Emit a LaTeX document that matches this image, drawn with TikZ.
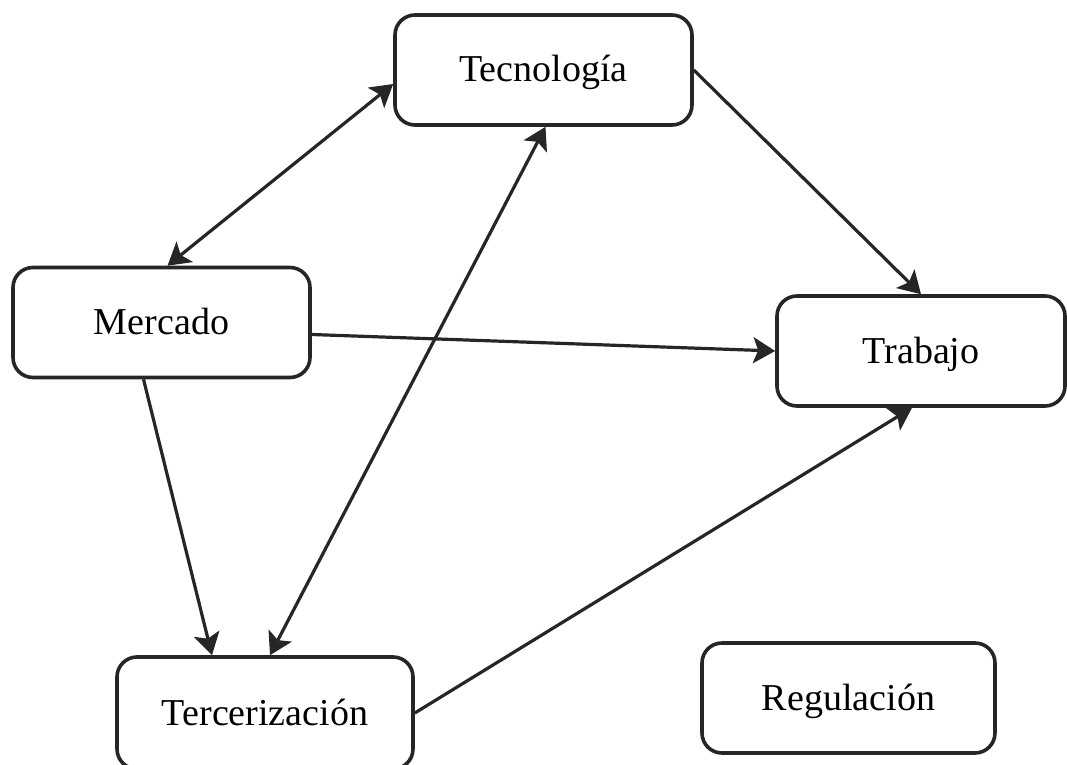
\documentclass[tikz,border=0pt]{standalone}
\usepackage{fontspec}
\setmainfont{Liberation Serif}
\usetikzlibrary{arrows.meta,calc}
\begin{document}
\begin{tikzpicture}[x=0.5pt,y=-0.5pt,
  box/.style={draw=black!85, line width=1.8pt, rounded corners=10pt,
    minimum width=#1, minimum height=55pt, inner sep=0pt,
    text height=12pt, text depth=0pt,
    font=\fontsize{19}{22}\selectfont},
  head/.style={Stealth[length=11pt,width=13pt,inset=2.5pt]},
  link/.style={line width=1.6pt, draw=black!85, -{Stealth[length=11pt,width=13pt,inset=2.5pt]}},
  both/.style={line width=1.6pt, draw=black!85,
    {Stealth[length=11pt,width=13pt,inset=2.5pt]}-{Stealth[length=11pt,width=13pt,inset=2.5pt]}}]
  \useasboundingbox (0,0) rectangle (1067,765);

  % the five factors
  \node[box=148.5pt] (tec)  at (543.5,70)  {Tecnología};
  \node[box=148.5pt] (mer)  at (161.5,322.5) {Mercado};
  \node[box=144pt]   (tra)  at (921,351)   {Trabajo};
  \node[box=148pt, minimum height=56pt] (ter) at (265,713) {Tercerización};
  \node[box=146.5pt] (reg)  at (848.5,698) {Regulación};

  % relations between them
  \draw[both] ($(tec.west)+(0,14)$) -- ($(mer.north)+(6,0)$);
  \draw[link] (tec.east) -- (tra.north);
  \draw[link] ($(mer.east)+(0,12)$) -- (tra.west);
  \draw[link] ($(mer.south)+(-18,0)$) -- ($(ter.north)+(-53,0)$);
  \draw[both] ($(tec.south)+(2,0)$) -- ($(ter.north)+(5,0)$);
  \draw[link] (ter.east) -- ($(tra.south)+(-9,0)$);
\end{tikzpicture}
\end{document}
